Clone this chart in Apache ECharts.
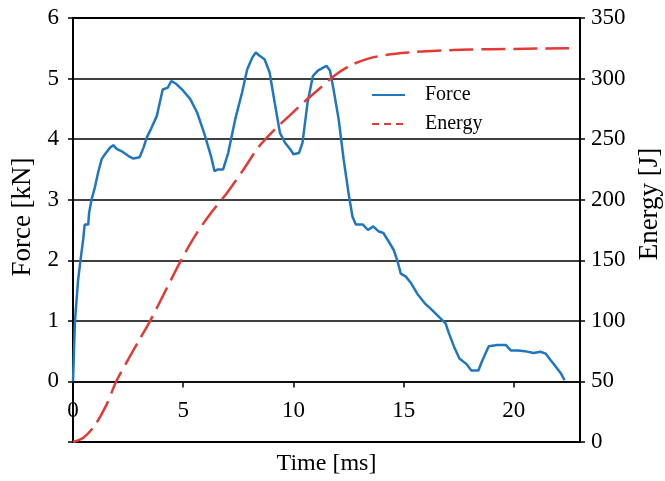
<!DOCTYPE html>
<html>
<head>
<meta charset="utf-8">
<script src="https://cdn.jsdelivr.net/npm/echarts@6/dist/echarts.min.js"></script>
<style>
  html, body { margin: 0; padding: 0; background: #fff; }
  #chart { width: 665px; height: 481px; }
</style>
</head>
<body>
<div id="chart"></div>
<script>
// Force curve [ms] / [kN]
const forceTime = [0, 0.05, 0.09, 0.15, 0.23, 0.34, 0.46, 0.53, 0.69, 0.73, 0.84, 0.99, 1.14, 1.30, 1.45, 1.68, 1.83, 1.98, 2.21, 2.52,
    2.74, 3.02, 3.2, 3.35, 3.54, 3.8, 4.07, 4.30, 4.46, 4.69, 5.0, 5.32, 5.63, 5.95, 6.26, 6.42, 6.57, 6.81, 7.04, 7.36,
    7.67, 7.90, 8.14, 8.29, 8.45, 8.69, 8.92, 9.15, 9.39, 9.62, 9.86, 10.0, 10.25, 10.41, 10.64, 10.88, 11.11, 11.35, 11.50, 11.66,
    11.82, 12.05, 12.28, 12.52, 12.68, 12.83, 13.15, 13.38, 13.62, 13.85, 14.08, 14.32, 14.55, 14.71, 14.87, 15.10, 15.34, 15.65, 15.96, 16.28,
    16.59, 16.90, 17.06, 17.29, 17.53, 17.84, 18.07, 18.39, 18.54, 18.86, 19.25, 19.64, 19.87, 20.19, 20.50, 20.89, 21.21, 21.44, 21.67, 21.91,
    22.14, 22.30];
const forceValue = [0, 0.57, 1.0, 1.29, 1.67, 2.0, 2.34, 2.59, 2.59, 2.78, 3.0, 3.2, 3.45, 3.67, 3.75, 3.86, 3.90, 3.84, 3.80, 3.72,
    3.68, 3.70, 3.86, 4.03, 4.17, 4.38, 4.82, 4.85, 4.96, 4.91, 4.80, 4.66, 4.44, 4.10, 3.72, 3.47, 3.50, 3.50, 3.77, 4.33,
    4.77, 5.15, 5.35, 5.43, 5.38, 5.32, 5.10, 4.60, 4.10, 3.94, 3.83, 3.75, 3.77, 3.94, 4.60, 5.04, 5.13, 5.18, 5.21, 5.13,
    4.82, 4.33, 3.66, 3.06, 2.72, 2.59, 2.59, 2.50, 2.56, 2.48, 2.45, 2.31, 2.17, 2.0, 1.78, 1.73, 1.62, 1.43, 1.29, 1.18,
    1.07, 0.96, 0.79, 0.57, 0.38, 0.29, 0.18, 0.18, 0.32, 0.58, 0.60, 0.60, 0.51, 0.51, 0.50, 0.47, 0.49, 0.46, 0.35, 0.24,
    0.13, 0.02];

// Energy curve [ms] / [J]
const energyTime = [0, 0.5, 1.0, 1.5, 1.96, 2.5, 3.0, 3.5, 4.2, 4.9, 5.6, 6.3, 7.0, 7.7, 8.4, 9.1, 9.8, 10.5, 11.2, 11.9,
    12.6, 13.4, 14.2, 15.2, 16.5, 18.0, 20.0, 22.5];
const energyValue = [0, 4, 14, 30, 50, 68, 84, 100, 125, 150, 172, 190, 206, 224, 243, 257, 269, 281, 292, 303,
    311, 316.5, 319.5, 321.5, 323, 324, 324.5, 325];

const timeTicks = [0, 5, 10, 15, 20];

const font = 'Liberation Serif';

const chart = echarts.init(document.getElementById('chart'));
const option = {
    animation: false,
    backgroundColor: '#fff',
    grid: {
        left: 73,
        right: 85,
        top: 18,
        bottom: 39,
        outerBoundsMode: 'none',
        containLabel: false,
        show: true,
        borderColor: '#000',
        borderWidth: 2
    },
    legend: {
        orient: 'vertical',
        left: 366,
        top: 80,
        itemWidth: 33,
        itemHeight: 14,
        itemGap: 9,
        itemStyle: { opacity: 0 },
        textStyle: {
            fontFamily: font,
            fontSize: 20,
            color: '#000',
            padding: [0, 0, 0, 15]
        },
        data: [
            { name: 'Force' },
            { name: 'Energy', lineStyle: { type: [7, 5] } }
        ]
    },
    xAxis: {
        type: 'value',
        min: 0,
        max: 23,
        interval: 5,
        name: 'Time [ms]',
        nameLocation: 'middle',
        nameGap: 10,
        nameTextStyle: { fontFamily: font, fontSize: 24, color: '#000' },
        axisLine: { onZero: true, lineStyle: { color: '#000', width: 1.5 } },
        axisTick: { show: true, length: 6, lineStyle: { color: '#000', width: 1.5 } },
        axisLabel: {
            fontFamily: font,
            fontSize: 23,
            color: '#000',
            margin: -43,
            formatter: function (v) { return timeTicks.indexOf(v) >= 0 ? String(v) : ''; }
        },
        splitLine: { show: false }
    },
    yAxis: [
        {
            type: 'value',
            min: -1,
            max: 6,
            interval: 1,
            name: 'Force [kN]',
            nameLocation: 'middle',
            nameGap: 34,
            nameRotate: 90,
            nameTextStyle: { fontFamily: font, fontSize: 27, color: '#000', padding: [0, 0, 0, 26] },
            axisLine: { show: true, lineStyle: { color: '#000', width: 2 } },
            axisTick: { show: true, length: 5, lineStyle: { color: '#000', width: 1.5 } },
            axisLabel: {
                fontFamily: font,
                fontSize: 23,
                color: '#000',
                margin: 14,
                formatter: function (v) { return v < 0 ? '' : String(v); }
            },
            splitLine: { show: true, lineStyle: { color: '#000', width: 1.5 } }
        },
        {
            type: 'value',
            min: 0,
            max: 350,
            interval: 50,
            position: 'right',
            name: 'Energy [J]',
            nameLocation: 'middle',
            nameGap: 56,
            nameRotate: 90,
            nameTextStyle: { fontFamily: font, fontSize: 27, color: '#000', padding: [0, 0, 0, 52] },
            axisLine: { show: true, lineStyle: { color: '#000', width: 2 } },
            axisTick: { show: true, length: 5, lineStyle: { color: '#000', width: 1.5 } },
            axisLabel: { fontFamily: font, fontSize: 23, color: '#000', margin: 11 },
            splitLine: { show: false }
        }
    ],
    series: [
        {
            name: 'Force',
            type: 'line',
            yAxisIndex: 0,
            symbol: 'none',
            lineStyle: { color: '#1f77c0', width: 2.5 },
            itemStyle: { color: '#1f77c0' },
            data: forceTime.map((t, i) => [t, forceValue[i]]),
            z: 3
        },
        {
            name: 'Energy',
            type: 'line',
            yAxisIndex: 1,
            symbol: 'none',
            smooth: 0.3,
            lineStyle: { color: '#e53935', width: 2.5, type: [24, 8] },
            itemStyle: { color: '#e53935' },
            data: energyTime.map((t, i) => [t, energyValue[i]]),
            z: 4
        }
    ]
};
chart.setOption(option);
window.addEventListener('resize', function () {
    chart.resize();
});
</script>
</body>
</html>
